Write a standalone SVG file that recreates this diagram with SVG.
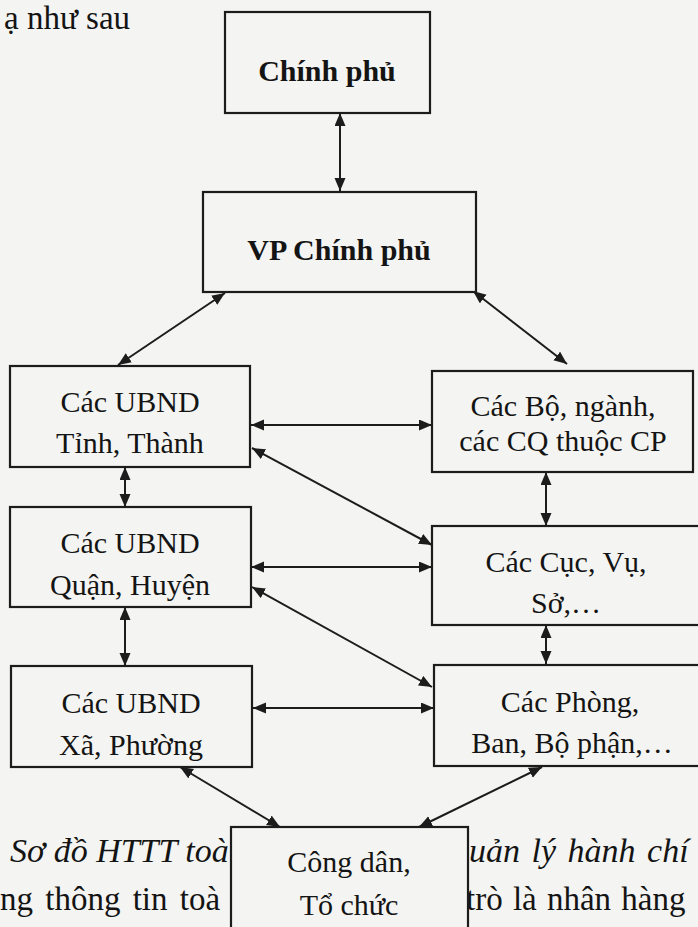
<svg xmlns="http://www.w3.org/2000/svg" width="698" height="927" viewBox="0 0 698 927">
  <style>
    .bg { fill: #f4f4f2; }
    .box { fill: #f4f4f2; stroke: #1c1c1c; stroke-width: 2.2; }
    .lbl { font-family: "Liberation Serif", "Times New Roman", serif; font-size: 30px; fill: #141414; text-anchor: middle; }
    .bold { font-weight: bold; }
    .body { font-family: "Liberation Serif", "Times New Roman", serif; font-size: 33px; fill: #141414; }
    .cap { font-family: "Liberation Serif", "Times New Roman", serif; font-size: 34px; font-style: italic; fill: #141414; }
    .conn line { stroke: #1c1c1c; stroke-width: 2; marker-start: url(#ah); marker-end: url(#ah); }
  </style>
  <defs>
    <marker id="ah" markerUnits="userSpaceOnUse" markerWidth="14" markerHeight="12" refX="13" refY="5.5" orient="auto-start-reverse">
      <path d="M0,0 L13,5.5 L0,11 z" fill="#1c1c1c"/>
    </marker>
  </defs>
  <rect class="bg" x="0" y="0" width="698" height="927"/>

  <g id="page-text">
    <text class="body" x="4" y="29">ạ như sau</text>
    <text class="cap" x="10" y="862">Sơ đồ HTTT toà</text>
    <text class="cap" x="452" y="862" word-spacing="3">quản lý hành chí</text>
    <text class="body" x="0" y="910" word-spacing="4">ng thông tin toà</text>
    <text class="body" x="466" y="910" word-spacing="2">trò là nhân hàng</text>
  </g>

  <g id="connectors" class="conn">
    <line x1="340" y1="113" x2="340" y2="191"/>
    <line x1="225" y1="293" x2="118" y2="365"/>
    <line x1="473" y1="291" x2="567" y2="364"/>
    <line x1="251" y1="425" x2="432" y2="425"/>
    <line x1="252" y1="448" x2="432" y2="545"/>
    <line x1="125" y1="467" x2="125" y2="507"/>
    <line x1="546" y1="472" x2="546" y2="526"/>
    <line x1="251" y1="567" x2="432" y2="567"/>
    <line x1="252" y1="587" x2="432" y2="687"/>
    <line x1="125" y1="607" x2="125" y2="666"/>
    <line x1="546" y1="625" x2="546" y2="664"/>
    <line x1="253" y1="708" x2="434" y2="708"/>
    <line x1="180" y1="767" x2="280" y2="827"/>
    <line x1="542" y1="767" x2="419" y2="827"/>
  </g>

  <g id="chinh-phu">
    <rect class="box" x="225" y="12" width="205" height="101"/>
    <text class="lbl bold" x="327" y="81">Chính phủ</text>
  </g>
  <g id="vp-chinh-phu">
    <rect class="box" x="203" y="192" width="273" height="100"/>
    <text class="lbl bold" x="339" y="260">VP Chính phủ</text>
  </g>
  <g id="ubnd-tinh">
    <rect class="box" x="10" y="366" width="240" height="101"/>
    <text class="lbl" x="130" y="412">Các UBND</text>
    <text class="lbl" x="130" y="453">Tỉnh, Thành</text>
  </g>
  <g id="bo-nganh">
    <rect class="box" x="432" y="371" width="261" height="101"/>
    <text class="lbl" x="563" y="416">Các Bộ, ngành,</text>
    <text class="lbl" x="563" y="451">các CQ thuộc CP</text>
  </g>
  <g id="ubnd-quan">
    <rect class="box" x="10" y="507" width="241" height="100"/>
    <text class="lbl" x="130" y="553">Các UBND</text>
    <text class="lbl" x="130" y="595">Quận, Huyện</text>
  </g>
  <g id="cuc-vu">
    <rect class="box" x="432" y="526" width="280" height="99"/>
    <text class="lbl" x="566" y="572">Các Cục, Vụ,</text>
    <text class="lbl" x="566" y="613">Sở,…</text>
  </g>
  <g id="ubnd-xa">
    <rect class="box" x="11" y="666" width="241" height="101"/>
    <text class="lbl" x="131" y="713">Các UBND</text>
    <text class="lbl" x="131" y="755">Xã, Phường</text>
  </g>
  <g id="phong-ban">
    <rect class="box" x="434" y="665" width="280" height="101"/>
    <text class="lbl" x="570" y="712">Các Phòng,</text>
    <text class="lbl" x="572" y="753">Ban, Bộ phận,…</text>
  </g>
  <g id="cong-dan">
    <rect class="box" x="231" y="827" width="237" height="110"/>
    <text class="lbl" x="349" y="872">Công dân,</text>
    <text class="lbl" x="349" y="915">Tổ chức</text>
  </g>
</svg>
